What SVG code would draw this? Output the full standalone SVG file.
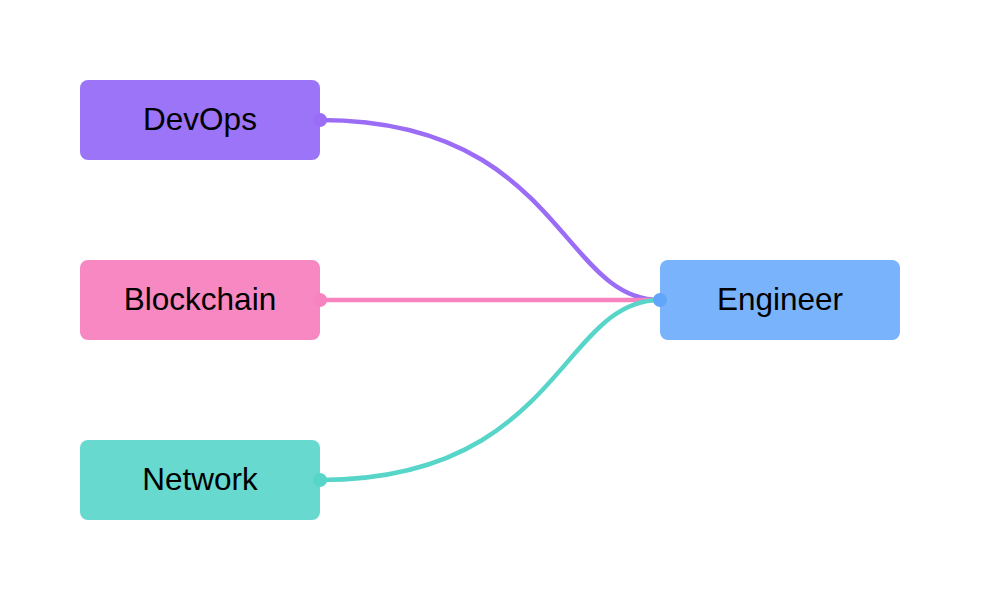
<svg xmlns="http://www.w3.org/2000/svg" width="1000" height="600" viewBox="0 0 1000 600">
<style>
.lbl{font-family:"Liberation Sans",Arial,sans-serif;font-size:31.5px;fill:#000;text-anchor:middle}
.link{fill:none;stroke-width:4.5}
</style>
<rect width="1000" height="600" fill="#fff"/>
<g id="connectors">
<path class="link" d="M320,120 C560,120 560,300 660,300" stroke="#9b6cf5"/>
<path class="link" d="M320,300 L660,300" stroke="#f783c0"/>
<path class="link" d="M320,480 C560,480 560,300 660,300" stroke="#58d5c9"/>
</g>
<g id="devops">
<rect x="80" y="80" width="240" height="80" rx="8" fill="#9b74f7"/>
<text class="lbl" x="200" y="130">DevOps</text>
</g>
<g id="blockchain">
<rect x="80" y="260" width="240" height="80" rx="8" fill="#f788c2"/>
<text class="lbl" x="200" y="310">Blockchain</text>
</g>
<g id="network">
<rect x="80" y="440" width="240" height="80" rx="8" fill="#68d9cf"/>
<text class="lbl" x="200" y="490">Network</text>
</g>
<g id="engineer">
<rect x="660" y="260" width="240" height="80" rx="8" fill="#79b3fb"/>
<text class="lbl" x="780" y="310">Engineer</text>
</g>
<g id="ports">
<circle cx="320" cy="120" r="7" fill="#9b6cf5"/>
<circle cx="320" cy="300" r="7" fill="#f783c0"/>
<circle cx="320" cy="480" r="7" fill="#58d5c9"/>
<circle cx="660" cy="300" r="7" fill="#62a6fa"/>
</g>
</svg>
